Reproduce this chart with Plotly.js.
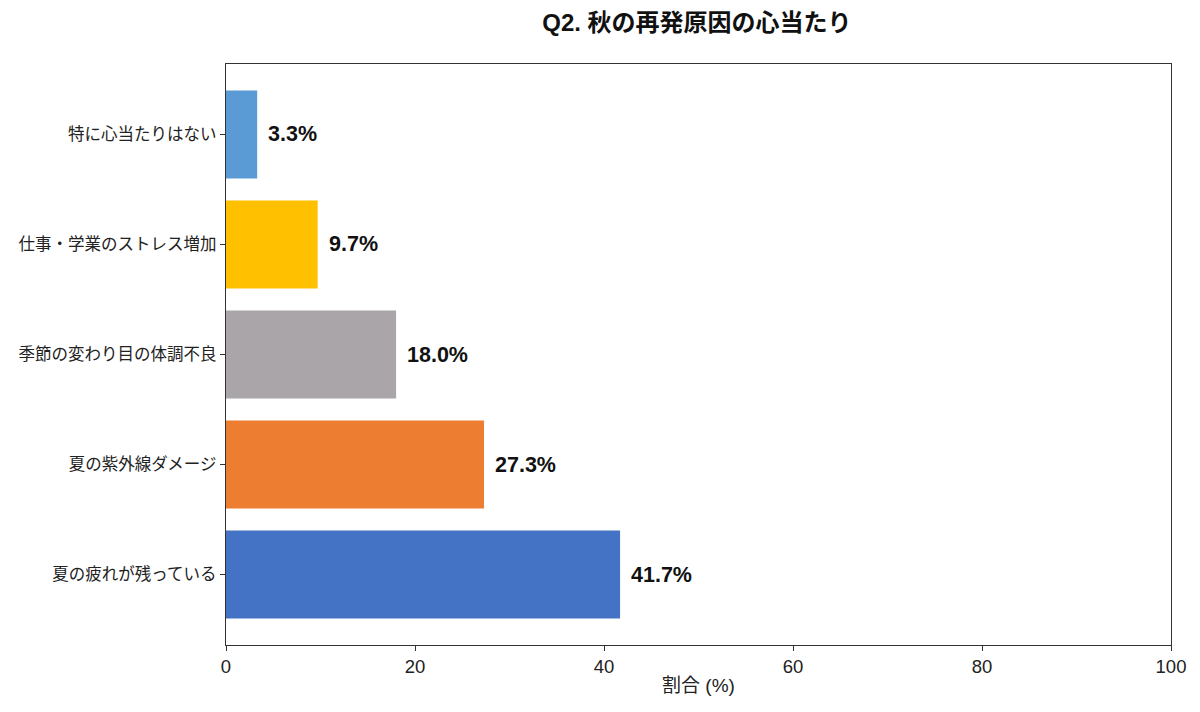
<!DOCTYPE html>
<html>
<head>
<meta charset="utf-8">
<script src="https://cdn.plot.ly/plotly-3.0.1.min.js"></script>
<style>
  html, body { margin: 0; padding: 0; background: #fff; }
  #chart { width: 1200px; height: 712px; }
</style>
</head>
<body>
<div id="chart"></div>
<script>
const categories = [
  "夏の疲れが残っている",
  "夏の紫外線ダメージ",
  "季節の変わり目の体調不良",
  "仕事・学業のストレス増加",
  "特に心当たりはない",
];
const shares = [41.7, 27.3, 18.0, 9.7, 3.3];
const barColors = ["#4472C4", "#ED7D31", "#A9A5A9", "#FFC000", "#5B9BD5"];
const xTicks = [0, 20, 40, 60, 80, 100];

// Latin glyphs from Liberation Sans, Japanese glyphs fall back to Noto CJK
const FONT = "'Liberation Sans', 'Noto Sans CJK JP', sans-serif";
const positions = categories.map((_, i) => i);

const barTrace = {
  type: "bar",
  orientation: "h",
  x: shares,
  y: positions,
  width: 0.8,
  marker: { color: barColors, line: { width: 0 } },
  hoverinfo: "skip",
};

const labels = shares.map((v, i) => ({
  x: v,
  y: positions[i],
  xref: "x",
  yref: "y",
  text: `<b>${v.toFixed(1)}%</b>`,
  showarrow: false,
  xanchor: "left",
  yanchor: "middle",
  xshift: 9,
  font: { family: FONT, size: 21.5, color: "#111" },
}));

const layout = {
  width: 1200,
  height: 712,
  margin: { l: 226, r: 29, t: 64, b: 67 },
  paper_bgcolor: "#fff",
  plot_bgcolor: "#fff",
  showlegend: false,
  font: { family: FONT, color: "#222" },
  title: {
    text: "<b>Q2. 秋の再発原因の心当たり</b>",
    font: { family: FONT, size: 24, color: "#111" },
    x: 0.5808,
    xanchor: "center",
    y: 0.968,
    yanchor: "middle",
  },
  xaxis: {
    range: [0, 100],
    tickvals: xTicks,
    ticktext: xTicks.map(String),
    ticks: "outside",
    ticklen: 5,
    tickcolor: "#333",
    tickfont: { family: FONT, size: 18.5, color: "#222" },
    showgrid: false,
    zeroline: false,
    showline: true,
    linecolor: "#333",
    linewidth: 1.2,
    mirror: true,
    title: { text: "割合 (%)", font: { family: FONT, size: 19, color: "#222" }, standoff: 2 },
  },
  yaxis: {
    range: [-0.64, 4.64],
    tickvals: positions,
    ticktext: categories,
    ticks: "outside",
    ticklen: 5,
    tickcolor: "#333",
    tickfont: { family: FONT, size: 16.5, color: "#222" },
    showgrid: false,
    zeroline: false,
    showline: true,
    linecolor: "#333",
    linewidth: 1.2,
    mirror: true,
  },
  annotations: labels,
};

Plotly.newPlot("chart", [barTrace], layout, { displayModeBar: false, staticPlot: true });
</script>
</body>
</html>
